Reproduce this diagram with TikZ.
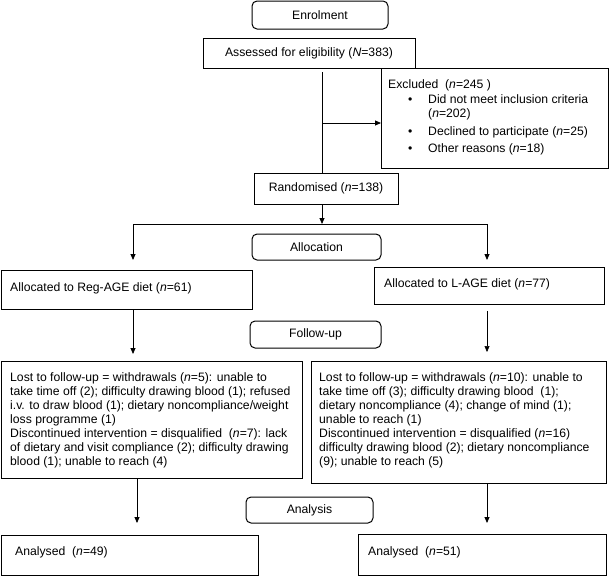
\documentclass[tikz,border=0pt]{standalone}
\usepackage{fontspec}
\setmainfont{Liberation Sans}
\usetikzlibrary{arrows.meta}
\newcommand\fs{\fontsize{12.2}{14}\selectfont}
\begin{document}
\begin{tikzpicture}[x=1pt,y=-1pt,
  box/.style={draw, line width=0.8pt, inner sep=0pt, anchor=north west},
  rbox/.style={draw, line width=1pt, rounded corners=5pt, inner sep=0pt, font=\fs},
  cbox/.style={draw, line width=0.8pt, inner sep=0pt, font=\fs},
  txt/.style={inner sep=0pt, anchor=base west, font=\fs},
  conn/.style={line width=0.8pt},
  arr/.style={conn, -{Triangle[length=6pt,width=5pt]}},
]
\useasboundingbox (0,0) rectangle (610,576);

% Enrolment
\node[rbox, minimum width=136pt, minimum height=28pt] (enrol) at (320,15) {Enrolment};
\node[cbox, minimum width=212pt, minimum height=30pt] (assess) at (309,53) {Assessed for eligibility (\textit{N}=383)};

% Excluded
\node[box, minimum width=227pt, minimum height=100pt] (excl) at (381,68) {};
\node[txt] (exclt) at (388,88) {\parbox[t]{218pt}{\raggedright
Excluded\ \ (\textit{n}=245 )\\[1pt]
\hspace*{20pt}\makebox[20pt][l]{•}Did not meet inclusion criteria\\
\hspace*{40pt}(\textit{n}=202)\\[4pt]
\hspace*{20pt}\makebox[20pt][l]{•}Declined to participate (\textit{n}=25)\\[3pt]
\hspace*{20pt}\makebox[20pt][l]{•}Other reasons (\textit{n}=18)}};

% Randomised
\node[cbox, minimum width=144pt, minimum height=31pt] (rand) at (326,188.5) {Randomised (\textit{n}=138)};

\coordinate (spine) at (322,72);
\draw[conn] (spine) -- (spine |- rand.north);
\coordinate (ex) at (322,123);
\draw[arr] (ex) -- (ex -| excl.west);

% Allocation
\node[rbox, minimum width=129pt, minimum height=26pt] (alloc) at (316.5,247) {Allocation};

\node[box, minimum width=251pt, minimum height=39pt] (regage) at (1,270) {};
\node[txt] (regaget) at (10,291) {Allocated to Reg-AGE diet (\textit{n}=61)};
\node[box, minimum width=230pt, minimum height=37pt] (lage) at (374,267) {};
\node[txt] (laget) at (384,287) {Allocated to L-AGE diet (\textit{n}=77)};

\coordinate (jn) at (322,224);
\coordinate (hl) at (133,224);
\coordinate (hr) at (487,224);
\draw[arr] (rand.south -| jn) -- (jn);
\draw[conn] (hl) -- (hr);
\draw[arr, shorten >=10pt] (hl) -- (hl |- regage.north);
\draw[arr, shorten >=7pt] (hr) -- (hr |- lage.north);

% Follow-up
\node[rbox, minimum width=131pt, minimum height=27pt] (follow) at (315.5,334.5) {Follow-up};

\node[box, minimum width=301pt, minimum height=117pt] (lostL) at (1,361) {};
\node[txt] (lostLt) at (10,381) {\parbox[t]{298pt}{\raggedright
Lost to follow-up = withdrawals (\textit{n}=5): unable to\\
take time off (2); difficulty drawing blood (1); refused\\
i.v. to draw blood (1); dietary noncompliance/weight\\
loss programme (1)\\
Discontinued intervention = disqualified\ \ (\textit{n}=7): lack\\
of dietary and visit compliance (2); difficulty drawing\\
blood (1); unable to reach (4)}};

\node[box, minimum width=295pt, minimum height=122pt] (lostR) at (311,361) {};
\node[txt] (lostRt) at (319,381) {\parbox[t]{285pt}{\raggedright
Lost to follow-up = withdrawals (\textit{n}=10): unable to\\
take time off (3); difficulty drawing blood\ \ (1);\\
dietary noncompliance (4); change of mind (1);\\
unable to reach (1)\\
Discontinued intervention = disqualified (\textit{n}=16)\\
difficulty drawing blood (2); dietary noncompliance\\
(9); unable to reach (5)}};

\draw[arr, shorten >=7pt] (regage.south -| hl) -- (lostL.north -| hl);
\draw[line width=0.5pt, -{Triangle[length=6pt,width=5pt]}, shorten <=6pt, shorten >=9pt] (lage.south -| hr) -- (lostR.north -| hr);

% Analysis
\node[rbox, minimum width=127pt, minimum height=26pt] (anal) at (309.5,510) {Analysis};

\node[box, minimum width=257pt, minimum height=40pt] (anL) at (1,535) {};
\node[txt] (anLt) at (15,555) {Analysed\ \ (\textit{n}=49)};
\node[box, minimum width=248pt, minimum height=41pt] (anR) at (358,534) {};
\node[txt] (anRt) at (368,555) {Analysed\ \ (\textit{n}=51)};

\coordinate (ll) at (137,478);
\draw[arr, shorten >=12pt] (lostL.south -| ll) -- (anL.north -| ll);
\draw[arr, shorten >=11pt] (lostR.south -| hr) -- (anR.north -| hr);
\end{tikzpicture}
\end{document}
